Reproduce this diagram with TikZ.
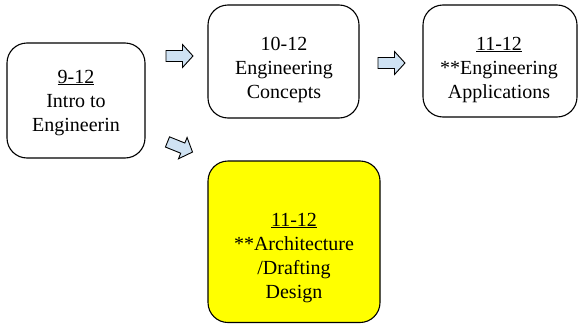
\documentclass[tikz,border=0pt]{standalone}
\usepackage{fontspec}
\setmainfont{Liberation Serif}
\definecolor{arrowblue}{RGB}{207,226,243}
\definecolor{boxyellow}{RGB}{255,255,0}
\tikzset{
  course/.style={draw=black, line width=1.1pt, rounded corners=20pt},
  label/.style={align=center, font=\rmfamily\fontsize{20}{24}\selectfont, inner sep=0pt, anchor=base},
  pics/blockarrow/.style={code={
    \draw[fill=arrowblue, line width=0.9pt, line join=miter]
      (-13.5,-5.5) -- (3,-5.5) -- (3,-11.5) -- (13.5,0) -- (3,11.5) -- (3,5.5) -- (-13.5,5.5) -- cycle;
  }}
}
\begin{document}
\begin{tikzpicture}[x=1pt, y=-1pt]
  \useasboundingbox (0,0) rectangle (583,324);

  % course boxes
  \draw[course] (7,43) rectangle (145,158);
  \draw[course] (208,5) rectangle (359,118);
  \draw[course] (423,5) rectangle (577,117);
  \draw[course, fill=boxyellow] (208,161) rectangle (380,322.5);

  % box texts (anchored at the baseline of their last line)
  \node[label] (intro) at (76,131) {\underline{9-12}\\Intro to\\Engineerin};
  \node[label] (concepts) at (284,98) {10-12\\Engineering\\Concepts};
  \node[label] (applications) at (499,98) {\underline{11-12}\\**Engineering\\Applications};
  \node[label] (architecture) at (294,298) {\underline{11-12}\\**Architecture\\/Drafting\\Design};

  % block arrows
  \pic at (179.5,56) {blockarrow};
  \pic at (391.5,63) {blockarrow};
  \pic[rotate=-22] at (180,147) {blockarrow};
\end{tikzpicture}
\end{document}
